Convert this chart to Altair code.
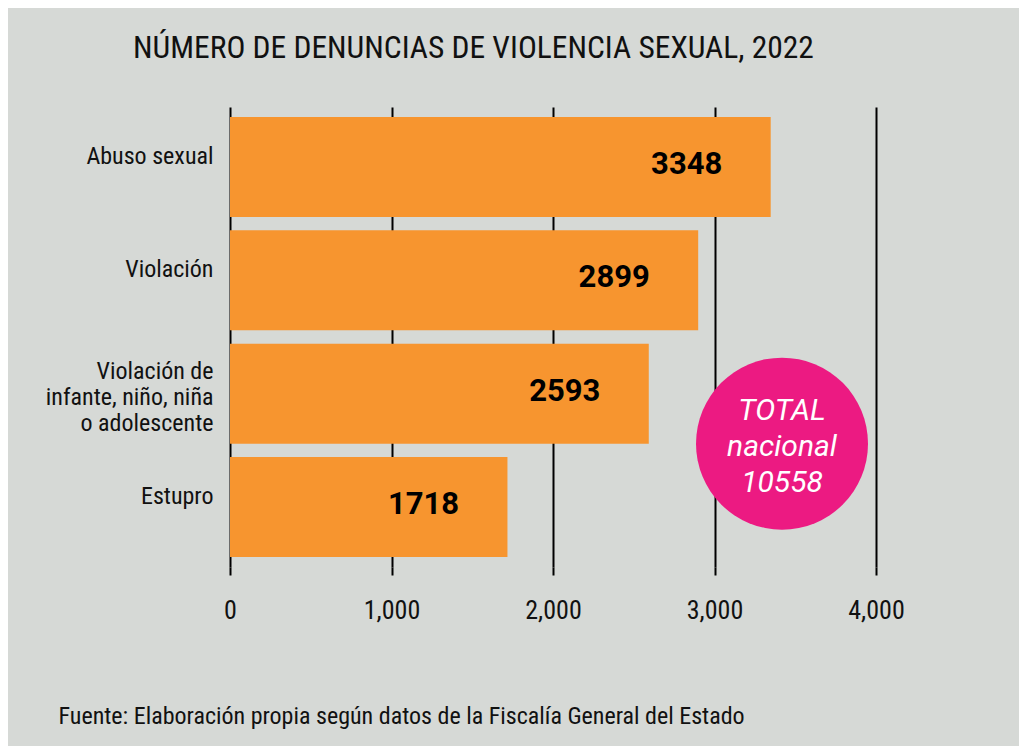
import altair as alt
import pandas as pd

categories = ["Abuso sexual", "Violación", "Violación de |infante, niño, niña|o adolescente", "Estupro"]
values = [3348, 2899, 2593, 1718]
x_ticks = [0, 1000, 2000, 3000, 4000]
total_label = "TOTAL\nnacional\n10558"
total_x = 3418
total_row = categories[2]

title_text = "NÚMERO DE DENUNCIAS DE VIOLENCIA SEXUAL, 2022"
source_text = "Fuente: Elaboración propia según datos de la Fiscalía General del Estado"

COND = "Liberation Sans Narrow, Roboto Condensed, Roboto, sans-serif"
BG = "#d6d9d6"
ORANGE = "#f7952f"
PINK = "#ec1a82"

df = pd.DataFrame({"cat": categories, "val": values})
ann = pd.DataFrame({"cat": [total_row], "x": [total_x], "label": [total_label]})

y_enc = alt.Y(
    "cat:N",
    sort=categories,
    scale=alt.Scale(paddingInner=0.1175, paddingOuter=0.088),
    axis=alt.Axis(
        title=None,
        domain=False,
        ticks=False,
        labelPadding=17,
        labelFont=COND,
        labelFontSize=24,
        labelColor="#111111",
        labelLineHeight=26,
        labelBaseline="middle",
        labelExpr="split(datum.label, '|')",
        labelOffset={"condition": {"test": "indexof(datum.value, '|') >= 0", "value": -22}, "value": -10},
    ),
)

x_enc = alt.X(
    "val:Q",
    scale=alt.Scale(domain=[0, 4000], nice=False),
    axis=alt.Axis(
        values=x_ticks,
        format=",d",
        grid=True,
        gridColor="#000000",
        gridWidth=2,
        gridOpacity=1,
        domain=False,
        tickColor="#000000",
        tickWidth=2,
        tickSize=8,
        labelPadding=22,
        labelFlush=False,
        labelFont=COND,
        labelFontSize=26,
        labelColor="#111111",
        title=source_text,
        titleFont=COND,
        titleFontSize=24,
        titleFontWeight="normal",
        titleColor="#111111",
        titleAnchor="start",
        titleAlign="left",
        titleBaseline="middle",
        titleX=-172,
        titleY=149,
    ),
)

bars = alt.Chart(df).mark_bar(color=ORANGE).encode(x=x_enc, y=y_enc)

val_text = alt.Chart(df).mark_text(
    align="center", baseline="middle", dx=-84, dy=-2,
    font="Roboto", fontSize=31, fontWeight="bold", color="#000000",
).encode(x="val:Q", y=alt.Y("cat:N", sort=categories), text="val:Q")

circle = alt.Chart(ann).mark_point(
    shape="circle", filled=True, color=PINK, opacity=1, size=29584, strokeWidth=0,
).encode(
    x="x:Q",
    y=alt.Y("cat:N", sort=categories, bandPosition=1),
)

circle_text = alt.Chart(ann).mark_text(
    align="center", baseline="middle", lineBreak="\n", lineHeight=36, dy=-33,
    font="Roboto", fontSize=30, fontStyle="italic", color="#ffffff",
).encode(
    x="x:Q",
    y=alt.Y("cat:N", sort=categories, bandPosition=1),
    text="label:N",
)

chart = (
    alt.layer(bars, val_text, circle, circle_text)
    .properties(
        width=646,
        height=460,
        background=BG,
        padding={"left": 222, "top": 99, "right": 143, "bottom": 179},
        autosize=alt.AutoSizeParams(type="none"),
        title=alt.TitleParams(
            title_text,
            font=COND,
            fontSize=31.5,
            fontWeight="normal",
            color="#111111",
            anchor="start",
            frame="group",
            dx=-97,
            offset=43,
        ),
    )
    .configure_view(stroke=None)
)

chart.save("out.html", embed_options={"renderer": "svg", "actions": False})
